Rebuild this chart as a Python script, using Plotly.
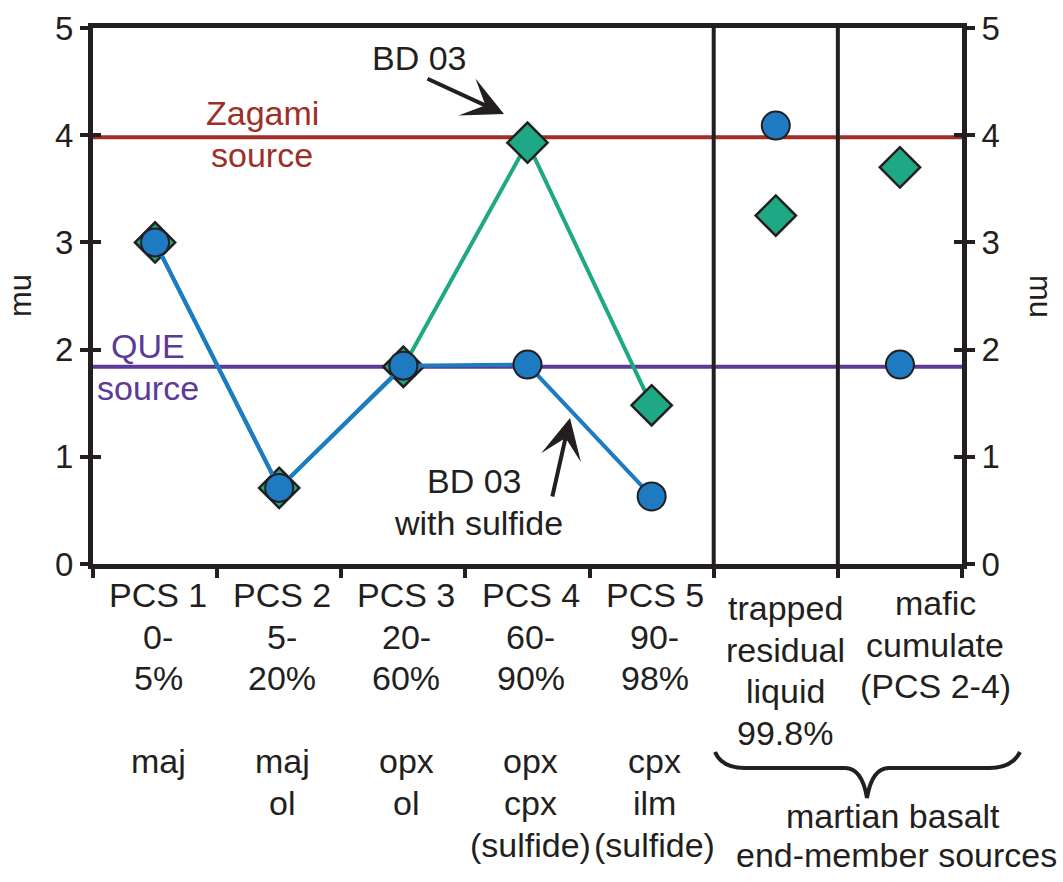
import plotly.graph_objects as go

# ---------------- data ----------------
categories = ["PCS 1", "PCS 2", "PCS 3", "PCS 4", "PCS 5",
              "trapped residual liquid", "mafic cumulate"]
bd03_mu = [3.00, 0.71, 1.84, 3.93, 1.48, 3.25, 3.70]            # diamonds
bd03_sulfide_mu = [3.00, 0.71, 1.85, 1.86, 0.63, 4.09, 1.86]    # circles
zagami_mu = 3.98
que_mu = 1.84
y_ticks = [0, 1, 2, 3, 4, 5]

pcs_labels = [["PCS 1", "0-", "5%", "", "maj"],
              ["PCS 2", "5-", "20%", "", "maj", "ol"],
              ["PCS 3", "20-", "60%", "", "opx", "ol"],
              ["PCS 4", "60-", "90%", "", "opx", "cpx", "(sulfide)"],
              ["PCS 5", "90-", "98%", "", "cpx", "ilm", "(sulfide)"]]
source_labels = [["trapped", "residual", "liquid", "99.8%"],
                 ["mafic", "cumulate", "(PCS 2-4)"]]
group_label = ["martian basalt", "end-member sources"]

# ---------------- style ----------------
FONT = "Liberation Sans, Arial, Helvetica, sans-serif"
INK = "#231f20"
BLUE = "#1f7bc1"
GREEN = "#1fa884"
RED = "#9e2f28"
PURPLE = "#5b3a98"
FS = 34
TFS = 33

W, H = 1063, 882
L, R, T, B = 93, 962, 28, 564
BASE_SHIFT = 12  # baseline -> vertical centre of a single text line


def px(xp):
    return (xp - L) / (R - L)


def py(yp):
    return (B - yp) / (B - T)


fig = go.Figure()

n_line = 5
# green (BD 03) line + diamonds
fig.add_trace(go.Scatter(
    x=categories[:n_line], y=bd03_mu[:n_line], mode="lines+markers",
    line=dict(color=GREEN, width=4),
    marker=dict(symbol="diamond", size=31, color=GREEN, line=dict(color=INK, width=2.5)),
    showlegend=False, hoverinfo="skip"))
fig.add_trace(go.Scatter(
    x=categories[n_line:], y=bd03_mu[n_line:], mode="markers",
    marker=dict(symbol="diamond", size=31, color=GREEN, line=dict(color=INK, width=2.5)),
    showlegend=False, hoverinfo="skip"))
# blue (BD 03 with sulfide) line + circles
fig.add_trace(go.Scatter(
    x=categories[:n_line], y=bd03_sulfide_mu[:n_line], mode="lines+markers",
    line=dict(color=BLUE, width=4),
    marker=dict(symbol="circle", size=28, color=BLUE, line=dict(color=INK, width=2)),
    showlegend=False, hoverinfo="skip"))
fig.add_trace(go.Scatter(
    x=categories[n_line:], y=bd03_sulfide_mu[n_line:], mode="markers",
    marker=dict(symbol="circle", size=28, color=BLUE, line=dict(color=INK, width=2)),
    showlegend=False, hoverinfo="skip"))
# invisible traces to activate the extra y axes
for ya in ["y2", "y3", "y4"]:
    fig.add_trace(go.Scatter(x=[categories[0]], y=[0], yaxis=ya, mode="markers",
                             marker=dict(opacity=0), showlegend=False, hoverinfo="skip"))

shapes = []
# horizontal source lines
shapes.append(dict(type="line", xref="paper", x0=0, x1=1, yref="y", y0=zagami_mu, y1=zagami_mu,
                   line=dict(color=RED, width=4), layer="below"))
shapes.append(dict(type="line", xref="paper", x0=0, x1=1, yref="y", y0=que_mu, y1=que_mu,
                   line=dict(color=PURPLE, width=4), layer="below"))
# vertical separators
for xb in [n_line - 0.5, n_line + 0.5]:
    shapes.append(dict(type="line", xref="x", x0=xb, x1=xb, yref="paper", y0=0, y1=1,
                       line=dict(color=INK, width=4), layer="above"))
# curly brace (pixel geometry -> paper)
pts = [(715, 752), (722, 768), (745, 768), (845, 768), (862, 768), (867, 798),
       (872, 768), (889, 768), (989, 768), (1012, 768), (1020, 752)]
P = [(px(a), py(b)) for a, b in pts]
path = ("M {0[0]},{0[1]} Q {1[0]},{1[1]} {2[0]},{2[1]} L {3[0]},{3[1]} "
        "Q {4[0]},{4[1]} {5[0]},{5[1]} Q {6[0]},{6[1]} {7[0]},{7[1]} "
        "L {8[0]},{8[1]} Q {9[0]},{9[1]} {10[0]},{10[1]}").format(*P)
shapes.append(dict(type="path", xref="paper", yref="paper", path=path,
                   line=dict(color=INK, width=4)))

ann = []


def line_ann(text, baseline, color=INK, size=FS, xref="paper", x=None, xshift=0):
    if text == "":
        return
    ann.append(dict(xref=xref, x=x, xshift=xshift, yref="paper", y=py(baseline - BASE_SHIFT),
                    xanchor="center", yanchor="middle", text=text, showarrow=False,
                    font=dict(size=size, color=color, family=FONT)))


# x category labels (one annotation per text line)
for cat, lines in zip(categories[:n_line], pcs_labels):
    for i, t in enumerate(lines):
        line_ann(t, 607 + i * 41.6, xref="x", x=cat, xshift=3)
src_x = [785, 935]
src_base = [620, 615]
for xc, yb, lines in zip(src_x, src_base, source_labels):
    for i, t in enumerate(lines):
        line_ann(t, yb + i * 41.5, x=px(xc))
line_ann(group_label[0], 828, x=px(893))
line_ann(group_label[1], 867, x=px(896))
# source labels
line_ann("Zagami", 125, color=RED, x=px(262))
line_ann("source", 167, color=RED, x=px(262))
line_ann("QUE", 358, color=PURPLE, x=px(148))
line_ann("source", 400, color=PURPLE, x=px(148))
# BD 03 labels + arrows
line_ann("BD 03", 70, x=px(419))
ann.append(dict(xref="paper", x=px(504), yref="paper", y=py(114), ax=426 - 504, ay=78 - 114,
                text="", showarrow=True, arrowhead=3, arrowsize=1.7, arrowwidth=4,
                arrowcolor=INK, standoff=0))
line_ann("BD 03", 493, x=px(474))
line_ann("with sulfide", 535, x=px(478))
ann.append(dict(xref="paper", x=px(570), yref="paper", y=py(418), ax=552 - 570, ay=498 - 418,
                text="", showarrow=True, arrowhead=3, arrowsize=1.7, arrowwidth=4,
                arrowcolor=INK, standoff=0))
# axis titles
ann.append(dict(xref="paper", x=px(20), yref="paper", y=0.5, xanchor="center", yanchor="middle",
                text="mu", textangle=-90, showarrow=False,
                font=dict(size=31, color=INK, family=FONT)))
ann.append(dict(xref="paper", x=px(1041), yref="paper", y=0.5, xanchor="center", yanchor="middle",
                text="mu", textangle=90, showarrow=False,
                font=dict(size=31, color=INK, family=FONT)))

yax_common = dict(range=[0, 5], tickvals=y_ticks, showgrid=False, zeroline=False,
                  linecolor=INK, linewidth=5, ticklen=8,
                  tickwidth=4, tickcolor=INK, tickfont=dict(size=TFS, color=INK, family=FONT),
                  fixedrange=True)

fig.update_layout(
    width=W, height=H,
    margin=dict(l=L, r=W - R, t=T, b=H - B, autoexpand=False),
    paper_bgcolor="white", plot_bgcolor="white",
    font=dict(family=FONT, color=INK),
    xaxis=dict(type="category", categoryorder="array", categoryarray=categories,
               range=[-0.5, len(categories) - 0.5], showgrid=False, zeroline=False,
               showline=True, mirror=True, linecolor=INK, linewidth=5,
               ticks="outside", tickson="boundaries", ticklen=9, tickwidth=4, tickcolor=INK,
               showticklabels=False, fixedrange=True),
    yaxis=dict(side="left", showline=True, ticks="outside", **yax_common),
    yaxis2=dict(side="right", overlaying="y", showline=True, ticks="outside", **yax_common),
    yaxis3=dict(side="left", overlaying="y", showline=False, ticks="inside",
                showticklabels=False, **yax_common),
    yaxis4=dict(side="right", overlaying="y", showline=False, ticks="inside",
                showticklabels=False, **yax_common),
    shapes=shapes, annotations=ann,
)

fig.write_html("out.html")
